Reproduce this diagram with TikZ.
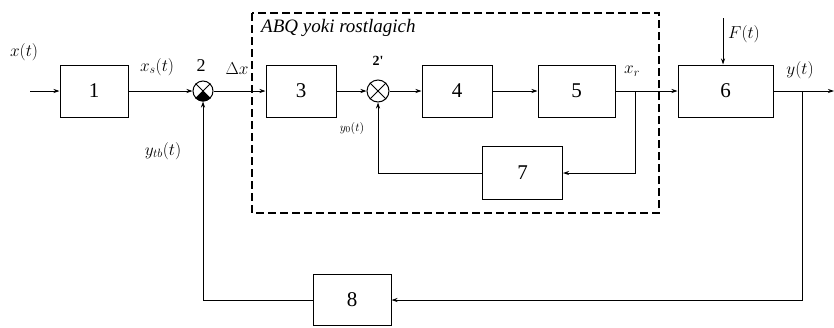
\documentclass[tikz,border=0pt]{standalone}
\usepackage{fontspec}
\setmainfont{Liberation Serif}
\usepackage{amsmath}
\usetikzlibrary{arrows.meta,positioning}

\begin{document}
\begin{tikzpicture}[x=1pt,y=-1pt,
  lbl/.style={font=\fontsize{18}{20}\selectfont,inner sep=1pt},
  box/.style={draw,line width=1pt,minimum height=52pt,font=\fontsize{21}{24}\selectfont},
  sum/.style={draw,circle,line width=1pt,minimum size=#1,inner sep=0pt},
  wire/.style={line width=0.8pt},
  arr/.style={wire,-{Stealth[length=6pt,width=4pt]}}]
\useasboundingbox (0,0) rectangle (834,327);

% --- controller frame -------------------------------------------------
\draw[line width=1.1pt,dash pattern=on 8pt off 4pt] (252,13) rectangle (659,213);
\node[lbl,font=\fontsize{19}{21}\selectfont\itshape,anchor=west] (ttl) at (260,28) {ABQ yoki rostlagich};

% --- forward path -----------------------------------------------------
\coordinate (xin) at (30,91);
\node[box,minimum width=68pt] (b1) at (94,91) {1};
\node[sum=20pt] (s2) at (203,91) {};
\node[box,minimum width=70pt] (b3) at (301,91) {3};
\node[sum=22pt] (s2p) at (378,91) {};
\node[box,minimum width=70pt] (b4) at (457,91) {4};
\node[box,minimum width=77pt] (b5) at (576.5,91) {5};
\coordinate (xr) at (635,91);
\node[box,minimum width=95pt] (b6) at (725.5,91) {6};
\coordinate (yb) at (802,91);
\coordinate (yout) at (834,91);

% junction symbols
\draw[wire] (s2.45) -- (s2.-135) (s2.135) -- (s2.-45);
\fill (s2.center) -- (s2.-45) -- (s2.-70) -- (s2.-90) -- (s2.-110) -- (s2.-135) -- cycle;
\draw[wire] (s2p.45) -- (s2p.-135) (s2p.135) -- (s2p.-45);

\draw[arr] (xin) -- (b1);
\draw[arr] (b1) -- (s2);
\draw[arr] (s2) -- (b3);
\draw[arr] (b3) -- (s2p);
\draw[arr] (s2p) -- (b4);
\draw[arr] (b4) -- (b5);
\draw[arr] (b5) -- (b6);
\draw[arr] (b6) -- (yout);

% --- disturbance ------------------------------------------------------
\coordinate (ftop) at (723,18);
\draw[arr] (ftop) -- (ftop |- b6.north);

% --- inner feedback ---------------------------------------------------
\node[box,minimum width=80pt,minimum height=53pt] (b7) at (522.5,173) {7};
\draw[arr] (xr) |- (b7);
\draw[arr] (b7) -| (s2p);

% --- main feedback ----------------------------------------------------
\node[box,minimum width=78pt,minimum height=51pt] (b8) at (352,300) {8};
\draw[arr] (yb) |- (b8);
\draw[arr] (b8) -| (s2);

% --- labels -----------------------------------------------------------
\node[lbl] (lx) at (24,52) {$x(t)$};
\node[lbl] (lxs) at (157,67) {$x_s(t)$};
\node[lbl] (l2) at (201,66) {2};
\node[lbl] (ldx) at (237,69) {$\Delta x$};
\node[lbl,font=\fontsize{14}{16}\selectfont\bfseries] (l2p) at (378,61) {2\textquotesingle};
\node[lbl,font=\fontsize{13}{15}\selectfont] (ly0) at (352,128) {$y_0(t)$};
\node[lbl] (lxr) at (632,71) {$x_r$};
\node[lbl,anchor=west] (lF) at (727,34) {$F(t)$};
\node[lbl] (ly) at (800,70) {$y(t)$};
\node[lbl] (lytb) at (163,151) {$y_{tb}(t)$};
\end{tikzpicture}
\end{document}
